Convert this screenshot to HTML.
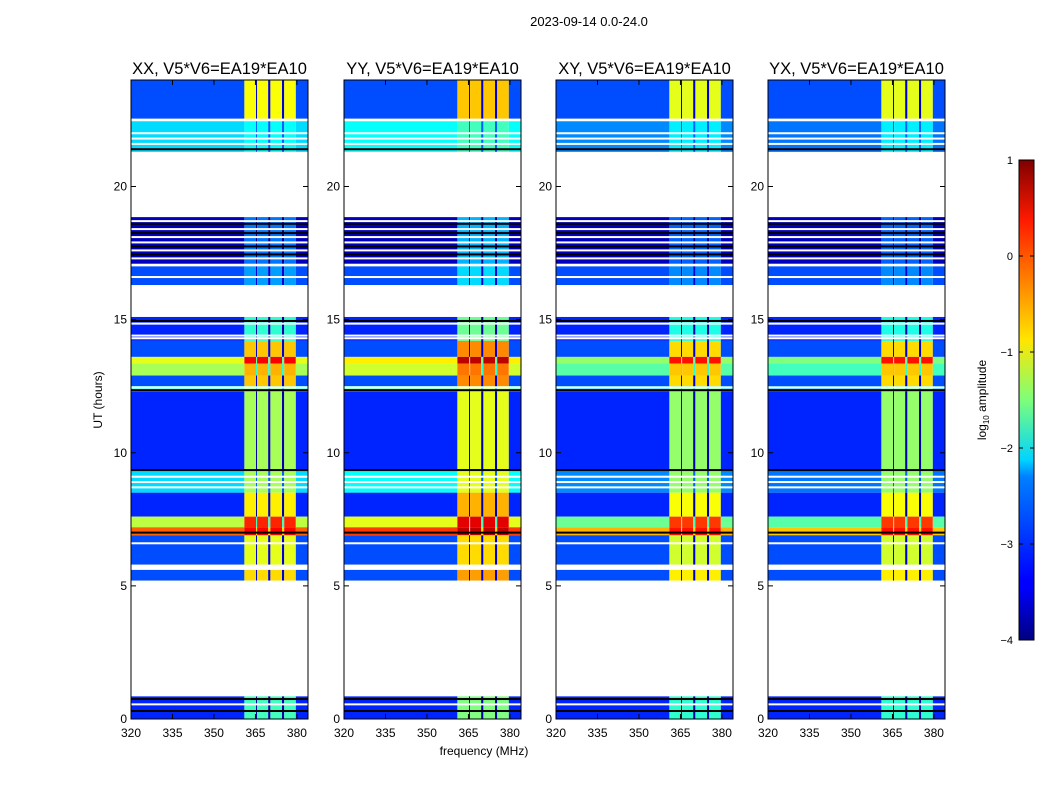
<!DOCTYPE html>
<html><head><meta charset="utf-8"><style>
body{margin:0;background:#fff;font-family:"Liberation Sans",sans-serif;}
svg text{font-family:"Liberation Sans",sans-serif;}
</style></head><body>
<svg id="fig" width="1050" height="800" xmlns="http://www.w3.org/2000/svg">
<defs>
<linearGradient id="jetg" x1="0" y1="1" x2="0" y2="0">
<stop offset="0" stop-color="#00007f"/><stop offset="0.11" stop-color="#0000ff"/>
<stop offset="0.125" stop-color="#0000ff"/><stop offset="0.34" stop-color="#0080ff"/>
<stop offset="0.375" stop-color="#00d4ff"/><stop offset="0.5" stop-color="#7dff7a"/>
<stop offset="0.625" stop-color="#ffe600"/><stop offset="0.75" stop-color="#ff8000"/>
<stop offset="0.875" stop-color="#ff1a00"/><stop offset="1" stop-color="#7f0000"/>
</linearGradient>
</defs>
<text x="589" y="26" font-size="13" text-anchor="middle">2023-09-14 0.0-24.0</text>
<text x="484" y="755" font-size="12" text-anchor="middle">frequency (MHz)</text>
<text x="102" y="400" font-size="12" text-anchor="middle" transform="rotate(-90 102 400)">UT (hours)</text>
<g id="panels"></g>
<g id="cbar">
<rect x="1019" y="160" width="15" height="480" fill="url(#jetg)" stroke="#000" stroke-width="1"/>
</g>
<text x="986" y="400" font-size="12" text-anchor="middle" transform="rotate(-90 986 400)">log<tspan font-size="8" dy="3">10</tspan><tspan dy="-3"> amplitude</tspan></text>
</svg>
<script>
// data
const panelTitles = ["XX, V5*V6=EA19*EA10","YY, V5*V6=EA19*EA10","XY, V5*V6=EA19*EA10","YX, V5*V6=EA19*EA10"];
const bgShift = [0, 0.2, -0.4, -0.5];
const bandShift = [0, 0.3, -0.1, -0.1];
const segStart = [22.55, 21.3, 17.1, 16.3, 14.2, 13.6, 13.35, 12.9, 12.5, 12.3, 9.35, 8.5, 7.6, 7.2, 6.9, 5.8, 5.2, 0.0];
const segEnd   = [24.0, 22.45, 18.85, 17.0, 15.1, 14.2, 13.6, 13.35, 12.9, 12.5, 12.3, 9.35, 8.5, 7.6, 7.2, 6.9, 5.6, 0.85];
const segBg    = [-3.0, -2.3, -3.7, -3.0, -3.2, -3.0, -1.0, -1.3, -3.0, -2.0, -3.2, -2.3, -3.2, -1.2, -0.1, -3.0, -3.0, -3.2];
const segBand  = [-0.9, -2.1, -2.8, -2.6, -1.9, -0.6, 0.4, -0.5, -0.6, -1.5, -1.3, -1.3, -0.8, 0.2, 0.4, -1.0, -0.7, -1.8];
const freqEdges = [320, 361, 365.2, 365.6, 369.6, 370.4, 374.6, 375.4, 379.6, 384];
const freqKind  = ["bg","band","gap","band","gap","band","gap","band","bg"];
const whiteLines = [22.0, 21.8, 21.6, 18.7, 18.4, 18.1, 17.9, 17.6, 17.3, 16.6, 14.85, 14.4, 14.3, 12.45, 9.1, 8.9, 8.7, 6.6, 5.7, 0.55];
const blackLines = [21.4, 18.6, 18.25, 17.75, 17.45, 14.95, 12.35, 9.35, 7.0, 0.75, 0.3];
const yTicks = [0, 5, 10, 15, 20];
const xTicks = [320, 335, 350, 365, 380];
const cbTicks = [1, 0, -1, -2, -3, -4];

const NS = "http://www.w3.org/2000/svg";
const panelX = [131, 344, 556, 768], PW = 177, PT = 80, PB = 719;
function yScale(h){ return PB - h * (PB - PT) / 24; }
function xScale(f, p){ return panelX[p] + (f - 320) * PW / 64; }
function cb(v){ return 640 - (v + 4) * 96; }
function jet(v){
  let t = Math.max(0, Math.min(1, (v + 4) / 5));
  const c = x => Math.round(255 * Math.max(0, Math.min(1, x)));
  return `rgb(${c(1.5 - Math.abs(4*t - 3))},${c(1.5 - Math.abs(4*t - 2))},${c(1.5 - Math.abs(4*t - 1))})`;
}
function mk(tag, attrs, parent){
  const e = document.createElementNS(NS, tag);
  for (const k in attrs) e.setAttribute(k, attrs[k]);
  parent.appendChild(e); return e;
}
const root = document.getElementById("panels");
for (let p = 0; p < 4; p++){
  const g = mk("g", {}, root);
  
  
  for (let s = 0; s < segStart.length; s++){
    for (let k = 0; k < freqKind.length; k++){
      let v;
      if (freqKind[k] === "bg") v = segBg[s] + (segBg[s] > -2.5 ? bgShift[p] : 0);
      else if (freqKind[k] === "band") v = segBand[s] + bandShift[p];
      else v = Math.min(segBg[s], segBand[s]) - 0.6;
      const x0 = xScale(freqEdges[k], p), x1 = Math.min(xScale(freqEdges[k+1], p), panelX[p] + PW);
      const r = mk("rect", {x: x0, y: yScale(segEnd[s]), width: x1 - x0, height: yScale(segStart[s]) - yScale(segEnd[s]), fill: jet(v)}, g);
      
      
    }
  }
  for (const h of whiteLines){
    const l = mk("rect", {x: panelX[p], y: yScale(h) - 1, width: PW, height: 2, fill: "#fff"}, g);
    
    
  }
  for (const h of blackLines){
    const l = mk("rect", {x: panelX[p], y: yScale(h) - 1, width: PW, height: 2, fill: "#000"}, g);
    
    
  }
  const fr = mk("rect", {x: panelX[p], y: PT, width: PW, height: PB - PT, fill: "none", stroke: "#000", "stroke-width": 1}, g);
  
  
  const t = mk("text", {x: panelX[p] + PW/2, y: 74, "font-size": 16.5, "text-anchor": "middle"}, g);
  t.textContent = panelTitles[p];
  
  
  for (const v of yTicks){
    const y = yScale(v);
    mk("line", {x1: panelX[p], x2: panelX[p] + 5, y1: y, y2: y, stroke: "#000"}, g);
    mk("line", {x1: panelX[p] + PW - 5, x2: panelX[p] + PW, y1: y, y2: y, stroke: "#000"}, g);
    const tl = mk("text", {x: panelX[p] - 4, y: y + 4, "font-size": 12, "text-anchor": "end"}, g);
    tl.textContent = v;
    
    
  }
  for (const f of xTicks){
    const x = xScale(f, p);
    mk("line", {x1: x, x2: x, y1: PB, y2: PB - 5, stroke: "#000"}, g);
    mk("line", {x1: x, x2: x, y1: PT, y2: PT + 5, stroke: "#000"}, g);
    const tl = mk("text", {x: x, y: 737, "font-size": 12, "text-anchor": "middle"}, g);
    tl.textContent = f;
    
    
  }
}
const cbg = document.getElementById("cbar");
for (const v of cbTicks){
  const y = cb(v);
  mk("line", {x1: 1019, x2: 1023, y1: y, y2: y, stroke: "#000"}, cbg);
  mk("line", {x1: 1030, x2: 1034, y1: y, y2: y, stroke: "#000"}, cbg);
  const tl = mk("text", {x: 1013, y: y + 4, "font-size": 11, "text-anchor": "end"}, cbg);
  tl.textContent = v < 0 ? "\u2212" + Math.abs(v) : v;
  
  
}
</script>
</body></html>
